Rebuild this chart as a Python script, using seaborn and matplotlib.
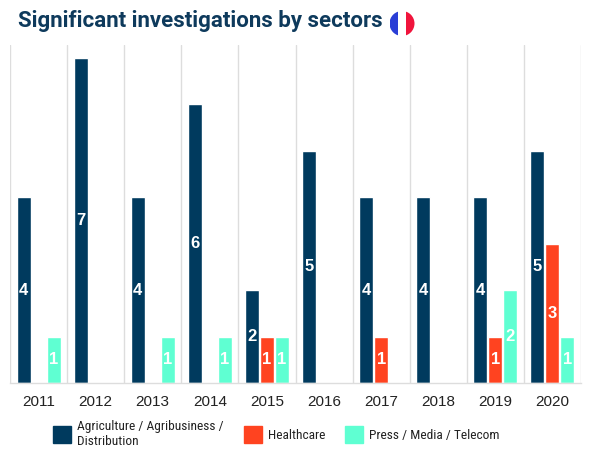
import matplotlib
matplotlib.use("Agg")
import matplotlib.pyplot as plt
import matplotlib.patches as mpatches
from matplotlib import font_manager as fm
import seaborn as sns
import pandas as pd
import numpy as np

years = ["2011", "2012", "2013", "2014", "2015", "2016", "2017", "2018", "2019", "2020"]
sectors = ["Agriculture / Agribusiness /\nDistribution", "Healthcare", "Press / Media / Telecom"]
agriculture = [4, 7, 4, 6, 2, 5, 4, 4, 4, 5]
healthcare = [0, 0, 0, 0, 1, 0, 1, 0, 1, 3]
press = [1, 0, 1, 1, 1, 0, 0, 0, 2, 1]
colors = ["#003a5e", "#ff4320", "#5fffd2"]

rows = []
for s, vals in zip(sectors, [agriculture, healthcare, press]):
    for y, v in zip(years, vals):
        rows.append({"year": y, "sector": s, "value": v})
df = pd.DataFrame(rows)

installed = {f.name for f in fm.fontManager.ttflist}
cond = None
for name in ["Liberation Sans Narrow", "Roboto Condensed", "Open Sans Condensed",
             "Noto Sans Condensed", "DejaVu Sans Condensed", "Roboto", "Liberation Sans"]:
    if name in installed:
        cond = name
        break
narrow = [cond, "DejaVu Sans"]

sns.set_theme(style="white")
plt.rcParams["font.family"] = ["Liberation Sans", "DejaVu Sans"]

fig = plt.figure(figsize=(5.93, 4.58), dpi=100)
W, H = 593, 458
ax = fig.add_axes([10 / W, 1 - 383 / H, (581 - 10) / W, (383 - 45) / H])

sns.barplot(data=df, x="year", y="value", hue="sector", hue_order=sectors,
            palette=colors, width=0.79, saturation=1, ax=ax, legend=False)

for p in ax.patches:
    w = p.get_width()
    p.set_x(p.get_x() + w * 0.035)
    p.set_width(w * 0.93)

for cont in ax.containers:
    labels = [str(int(v)) if v > 0 else "" for v in cont.datavalues]
    ax.bar_label(cont, labels=labels, label_type="center", color="white",
                 fontsize=12, fontweight="bold")

ax.set_xlim(-0.5, len(years) - 0.5)
ax.set_ylim(0, 7.27)
ax.set_xlabel("")
ax.set_ylabel("")
ax.set_yticks([])
ax.set_xticks(np.arange(-0.5, len(years), 1.0), minor=True)
ax.grid(True, which="minor", axis="x", color="#dddddd", linewidth=1)
ax.tick_params(axis="x", which="major", length=0, pad=9, labelsize=11, labelcolor="#222222")
ax.tick_params(axis="x", which="minor", length=0)
for side in ["left", "right", "top"]:
    ax.spines[side].set_visible(False)
ax.spines["bottom"].set_color("#dddddd")
ax.spines["bottom"].set_linewidth(1)

renderer = fig.canvas.get_renderer()

# legend font size chosen so that "Healthcare" is ~57 px wide, as in the reference
probe = fig.text(0, 0, "Healthcare", fontsize=10, family=narrow)
pw = probe.get_window_extent(renderer).width
probe.remove()
fs = 10 * 57 / pw
em = fs * 100 / 72  # px per font-size unit
handles = [mpatches.Patch(color=c, label=s) for c, s in zip(colors, sectors)]
leg = fig.legend(handles=handles, loc="center left", bbox_to_anchor=(53 / W, 1 - 434 / H),
                 ncol=3, frameon=False, handlelength=18 / em, handleheight=20 / em,
                 handletextpad=6 / em, columnspacing=20 / em, borderpad=0, borderaxespad=0,
                 labelspacing=0.1, prop={"family": narrow, "size": fs}, labelcolor="#222222")

# Title fitted to reference width (x 18 -> 383)
title = fig.text(18 / W, 1 - 26.5 / H, "Significant investigations by sectors",
                 ha="left", va="baseline", fontsize=16, fontweight="bold",
                 color="#0e3a5c", family=["Roboto", "DejaVu Sans"])
tw = title.get_window_extent(renderer).width
title.set_fontsize(16 * 365 / tw)

# French flag badge
cx, cy, r = 402 / W, 1 - 23.5 / H, 12.5
flag_ax = fig.add_axes([cx - r / W, cy - r / H, 2 * r / W, 2 * r / H])
flag_ax.set_xlim(-1, 1)
flag_ax.set_ylim(-1, 1)
flag_ax.axis("off")
circ = mpatches.Circle((0, 0), 1, transform=flag_ax.transData, facecolor="none", edgecolor="none")
flag_ax.add_patch(circ)
for x0, c in zip([-1, -1 / 3, 1 / 3], ["#2a3ed6", "#ffffff", "#f0143c"]):
    rect = mpatches.Rectangle((x0, -1), 2 / 3, 2, facecolor=c, edgecolor="none")
    flag_ax.add_patch(rect)
    rect.set_clip_path(circ)

fig.savefig("out.png", dpi=100)
